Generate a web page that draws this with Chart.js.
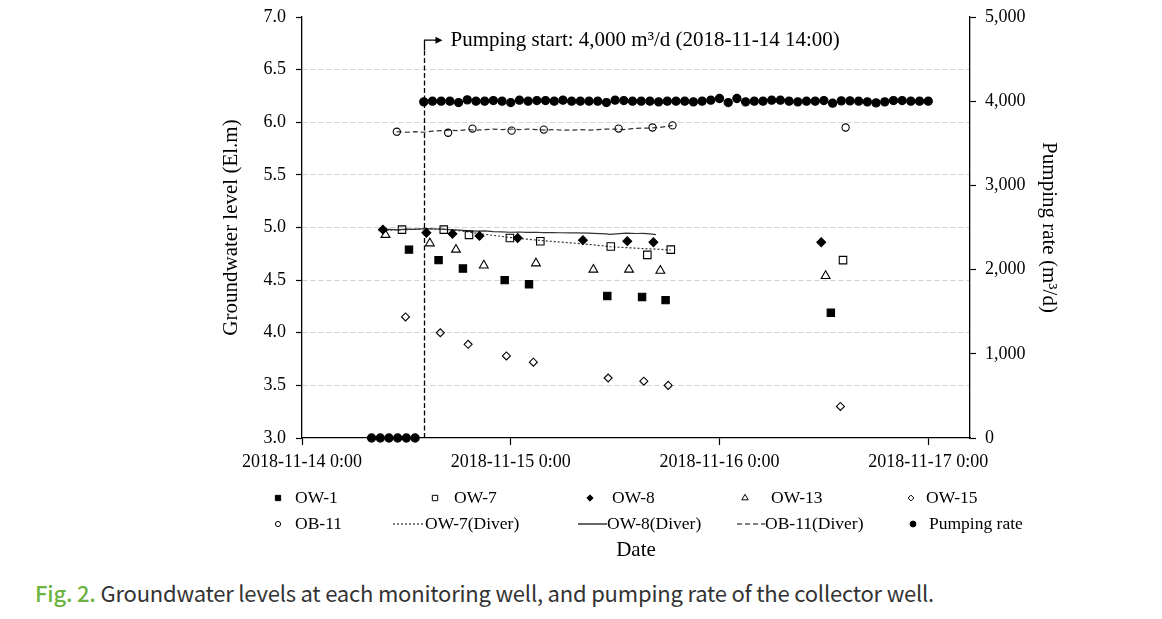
<!DOCTYPE html>
<html><head><meta charset="utf-8">
<script src="https://cdn.jsdelivr.net/npm/chart.js@4/dist/chart.umd.min.js"></script>
<style>
html,body{margin:0;padding:0;background:#fff;width:1162px;height:619px;overflow:hidden}
#wrap{position:absolute;left:0;top:0;width:1162px;height:575px}
#cap{position:absolute;left:35px;top:576px;font-family:"Noto Sans CJK KR","Noto Sans",sans-serif;font-size:22px;color:#333;white-space:nowrap;letter-spacing:-0.2px}
#cap b{color:#6db33f;font-weight:500}
</style></head><body>
<div id="wrap"><canvas id="c" width="1162" height="575"></canvas></div>
<div id="cap"><b>Fig. 2.</b> Groundwater levels at each monitoring well, and pumping rate of the collector well.</div>
<script>
// ---- data (x = hours since 2018-11-14 0:00) ----
const dayTickHours = [0, 24, 48, 72];
const dateTickLabels = ['2018-11-14 0:00', '2018-11-15 0:00', '2018-11-16 0:00', '2018-11-17 0:00'];

const ow1Hours = [12.3, 15.7, 18.5, 23.3, 26.1, 35.1, 39.1, 41.8, 60.8];
const ow1Level = [4.79, 4.69, 4.61, 4.50, 4.46, 4.35, 4.34, 4.31, 4.19];

const ow7Hours = [11.5, 16.3, 19.2, 23.9, 27.4, 35.5, 39.7, 42.4, 62.2];
const ow7Level = [4.98, 4.98, 4.93, 4.90, 4.87, 4.82, 4.74, 4.79, 4.69];

const ow8Hours = [9.3, 14.3, 17.3, 20.4, 24.8, 32.3, 37.4, 40.4, 59.7];
const ow8Level = [4.98, 4.95, 4.94, 4.92, 4.90, 4.88, 4.87, 4.86, 4.86];

const ow13Hours = [9.6, 14.7, 17.7, 20.9, 26.9, 33.5, 37.6, 41.2, 60.2];
const ow13Level = [4.93, 4.85, 4.79, 4.64, 4.66, 4.60, 4.60, 4.59, 4.54];

const ow15Hours = [11.9, 15.9, 19.1, 23.5, 26.6, 35.2, 39.3, 42.1, 61.9];
const ow15Level = [4.15, 4.00, 3.89, 3.78, 3.72, 3.57, 3.54, 3.50, 3.30];

const ob11Hours = [10.9, 16.8, 19.6, 24.1, 27.8, 36.4, 40.3, 42.6, 62.5];
const ob11Level = [5.91, 5.90, 5.94, 5.92, 5.93, 5.94, 5.95, 5.97, 5.95];

const ow7DiverHours = [8.8, 10, 12, 14.3, 16.2, 18.1, 20.1, 22, 23.9, 25.8, 27.7, 29.6, 31.5, 33.5, 35.4, 37.3, 39.2, 40.7, 42.4];
const ow7DiverLevel = [4.97, 4.975, 4.98, 4.99, 4.983, 4.97, 4.945, 4.925, 4.905, 4.89, 4.875, 4.862, 4.85, 4.835, 4.818, 4.808, 4.80, 4.795, 4.786];

const ow8DiverHours = [8.8, 10, 11, 12, 13, 14.3, 15, 16.2, 17, 18.1, 19, 20.1, 21, 22, 23, 23.9, 25, 25.8, 27, 27.7, 29, 29.6, 31, 31.5, 33, 33.5, 35, 35.4, 36.5, 37.3, 38.5, 39.2, 40, 40.7];
const ow8DiverLevel = [4.98, 4.982, 4.978, 4.985, 4.983, 4.99, 4.986, 4.985, 4.979, 4.975, 4.97, 4.965, 4.967, 4.96, 4.958, 4.955, 4.957, 4.953, 4.955, 4.952, 4.951, 4.95, 4.949, 4.948, 4.946, 4.944, 4.94, 4.935, 4.942, 4.946, 4.943, 4.944, 4.94, 4.932];

const ob11DiverHours = [10.9, 12, 13, 14, 15, 16, 17, 18, 19, 20, 21, 22, 23, 24, 25, 26, 27, 28, 29, 30, 31, 32, 33, 34, 35, 36, 37, 38, 39, 40, 41, 42, 42.6];
const ob11DiverLevel = [5.91, 5.905, 5.91, 5.905, 5.915, 5.92, 5.925, 5.92, 5.93, 5.925, 5.93, 5.935, 5.93, 5.935, 5.93, 5.935, 5.93, 5.925, 5.93, 5.925, 5.925, 5.93, 5.925, 5.93, 5.935, 5.935, 5.93, 5.94, 5.945, 5.945, 5.95, 5.96, 5.97];

const pumpHours = [8, 9, 10, 11, 12, 13,
  14, 15, 16, 17, 18, 19, 20, 21, 22, 23, 24, 25, 26, 27, 28, 29, 30, 31, 32, 33, 34, 35, 36, 37, 38, 39, 40, 41, 42, 43,
  44, 45, 46, 47, 48, 49, 50, 51, 52, 53, 54, 55, 56, 57, 58, 59, 60, 61, 62, 63, 64, 65, 66, 67, 68, 69, 70, 71, 72];
const pumpRate = [0, 0, 0, 0, 0, 0,
  3992, 4000, 4000, 4000, 3984, 4016, 4000, 4000, 4008, 4000, 3984, 4012, 4000, 4008, 4008, 4000, 4012, 4000, 4000, 4000, 4000, 3984, 4012, 4008, 4000, 4000, 4000, 3992, 4000, 4000,
  4000, 3992, 4000, 4012, 4032, 3984, 4032, 3992, 4000, 4000, 4012, 4012, 4000, 3992, 4000, 4000, 4008, 3976, 4004, 4004, 4000, 3992, 3980, 3992, 4008, 4008, 4000, 4000, 4000];

const pumpStartHour = 14;
const pumpStartText = 'Pumping start: 4,000 m\u00B3/d (2018-11-14 14:00)';

// ---- chart ----
const serif = "'Liberation Serif','Times New Roman',serif";
const pts = (xs, ys) => xs.map((x, i) => ({x: x, y: ys[i]}));
const clear = 'rgba(0,0,0,0)';

function markerSet(label, xs, ys, style, r, filled, extra) {
  return Object.assign({
    label: label, data: pts(xs, ys), showLine: false, yAxisID: 'y',
    pointStyle: style, pointRadius: r, pointHoverRadius: r,
    pointBackgroundColor: filled ? '#000' : clear, pointBorderColor: '#000',
    pointBorderWidth: 1.1, backgroundColor: filled ? '#000' : clear, borderColor: '#000'
  }, extra || {});
}
function lineSet(label, xs, ys, dash) {
  return {
    label: label, data: pts(xs, ys), showLine: true, yAxisID: 'y',
    borderColor: '#333', borderWidth: 1.2, borderDash: dash, pointRadius: 0,
    pointHoverRadius: 0, backgroundColor: clear, fill: false, tension: 0
  };
}

const datasets = [
  markerSet('OW-1', ow1Hours, ow1Level, 'rect', 5.2, true),
  markerSet('OW-7', ow7Hours, ow7Level, 'rect', 5.3, false),
  markerSet('OW-8', ow8Hours, ow8Level, 'rectRot', 4.4, true),
  markerSet('OW-13', ow13Hours, ow13Level, 'triangle', 5.1, false),
  markerSet('OW-15', ow15Hours, ow15Level, 'rectRot', 4.0, false),
  markerSet('OB-11', ob11Hours, ob11Level, 'circle', 3.6, false),
  lineSet('OW-7(Diver)', ow7DiverHours, ow7DiverLevel, [2, 2]),
  lineSet('OW-8(Diver)', ow8DiverHours, ow8DiverLevel, []),
  lineSet('OB-11(Diver)', ob11DiverHours, ob11DiverLevel, [5, 3]),
  markerSet('Pumping rate', pumpHours, pumpRate, 'circle', 4.1, true, {yAxisID: 'y2', clip: false})
];

function drawSym(ctx, style, x, y, r, filled) {
  ctx.save();
  ctx.beginPath();
  if (style === 'rect') { const s = r * Math.SQRT1_2; ctx.rect(x - s, y - s, 2 * s, 2 * s); }
  else if (style === 'rectRot') { ctx.moveTo(x - r, y); ctx.lineTo(x, y - r); ctx.lineTo(x + r, y); ctx.lineTo(x, y + r); ctx.closePath(); }
  else if (style === 'triangle') { ctx.moveTo(x, y - r); ctx.lineTo(x + 0.866 * r, y + 0.5 * r); ctx.lineTo(x - 0.866 * r, y + 0.5 * r); ctx.closePath(); }
  else { ctx.arc(x, y, r, 0, Math.PI * 2); }
  ctx.lineWidth = 1; ctx.strokeStyle = '#000'; ctx.fillStyle = filled ? '#000' : '#fff';
  ctx.fill(); ctx.stroke();
  ctx.restore();
}

// legend layout: [datasetIndex, symbolStartX, textX, rowY]
const legendLayout = [
  [0, 278, 295, 497], [1, 435, 454, 497], [2, 590, 612, 497], [3, 745, 771, 497], [4, 911, 926, 497],
  [5, 278, 295, 523], [6, 393, 425, 523], [7, 578, 607, 523], [8, 737, 765, 523], [9, 913, 929, 523]
];

const legendPlugin = {
  id: 'excelLegend',
  afterDraw(chart) {
    const ctx = chart.ctx;
    ctx.save();
    ctx.font = '17.5px ' + serif; ctx.fillStyle = '#000'; ctx.textBaseline = 'middle';
    legendLayout.forEach(([di, sx, tx, ry]) => {
      const ds = chart.data.datasets[di];
      if (ds.showLine) {
        ctx.save(); ctx.strokeStyle = '#000'; ctx.lineWidth = 1.2; ctx.setLineDash(ds.borderDash || []);
        ctx.beginPath(); ctx.moveTo(sx, ry + 1); ctx.lineTo(tx, ry + 1); ctx.stroke(); ctx.restore();
      } else {
        drawSym(ctx, ds.pointStyle, sx, ry + 1, ds.pointRadius * 0.72, ds.pointBackgroundColor === '#000');
      }
      ctx.fillText(ds.label, tx, ry + 1);
    });
    ctx.restore();
  }
};

const annotationPlugin = {
  id: 'pumpStart',
  afterDatasetsDraw(chart) {
    const {ctx, scales} = chart;
    const px = Math.round(scales.x.getPixelForValue(pumpStartHour)) + 0.5;
    const yBot = scales.y.getPixelForValue(3);
    const yTop = scales.y.getPixelForValue(6.78);
    ctx.save();
    ctx.strokeStyle = '#000'; ctx.lineWidth = 1.3;
    ctx.setLineDash([5, 2.5]);
    ctx.beginPath(); ctx.moveTo(px, yBot); ctx.lineTo(px, yTop + 10); ctx.stroke();
    ctx.setLineDash([]);
    ctx.beginPath(); ctx.moveTo(px, yTop + 10); ctx.lineTo(px, yTop); ctx.lineTo(px + 12, yTop); ctx.stroke();
    ctx.fillStyle = '#000';
    ctx.beginPath(); ctx.moveTo(px + 18, yTop); ctx.lineTo(px + 11, yTop - 3.5); ctx.lineTo(px + 11, yTop + 3.5); ctx.closePath(); ctx.fill();
    ctx.font = '21px ' + serif; ctx.textBaseline = 'middle'; ctx.textAlign = 'left';
    ctx.fillText(pumpStartText, px + 26, yTop);
    ctx.restore();
  }
};

const noVPad = s => { s.paddingTop = 0; s.paddingBottom = 0; };

new Chart(document.getElementById('c'), {
  type: 'scatter',
  data: {datasets: datasets},
  plugins: [annotationPlugin, legendPlugin],
  options: {
    responsive: false, animation: false, events: [], devicePixelRatio: 1,
    layout: {padding: {top: 17, left: 0, right: 0, bottom: 0}},
    plugins: {legend: {display: false}, tooltip: {enabled: false}},
    scales: {
      x: {
        type: 'linear', min: 0, max: 76.8,
        afterBuildTicks: s => { s.ticks = dayTickHours.map(v => ({value: v})); },
        afterFit: s => { s.height = 137; },
        ticks: {callback: v => dateTickLabels[dayTickHours.indexOf(v)], font: {family: serif, size: 18}, color: '#000', maxRotation: 0, autoSkip: false, padding: 6},
        grid: {display: true, drawOnChartArea: false, drawTicks: true, tickLength: 7, tickColor: '#000', tickWidth: 1.2},
        border: {display: true, color: '#000', width: 1.3},
        title: {display: true, text: 'Date', font: {family: serif, size: 21}, color: '#000', padding: {top: 0, bottom: 12}}
      },
      y: {
        position: 'left', min: 3, max: 7,
        afterFit: s => { s.width = 302; noVPad(s); },
        ticks: {stepSize: 0.5, callback: v => v.toFixed(1), font: {family: serif, size: 18}, color: '#000', padding: 10},
        grid: {color: c => (c.tick && (c.tick.value === 7 || c.tick.value === 3)) ? clear : '#d2d2d2', lineWidth: 1, tickLength: 6, tickColor: '#000', tickWidth: 1.2, tickBorderDash: []},
        border: {display: true, color: '#000', width: 1.3, dash: [5, 3]},
        title: {display: true, text: 'Groundwater level (El.m)', font: {family: serif, size: 21}, color: '#000', padding: {top: 219, bottom: 0}}
      },
      y2: {
        position: 'right', min: 0, max: 5000,
        afterFit: s => { s.width = 192; noVPad(s); },
        ticks: {stepSize: 1000, callback: v => v.toLocaleString('en-US'), font: {family: serif, size: 18}, color: '#000', padding: 9},
        grid: {drawOnChartArea: false, tickLength: 6, tickColor: '#000', tickWidth: 1.2},
        border: {display: true, color: '#000', width: 1.3},
        title: {display: true, text: 'Pumping rate (m\u00B3/d)', font: {family: serif, size: 21}, color: '#000', padding: {top: 101, bottom: 0}}
      }
    }
  }
});
</script>
</body></html>
